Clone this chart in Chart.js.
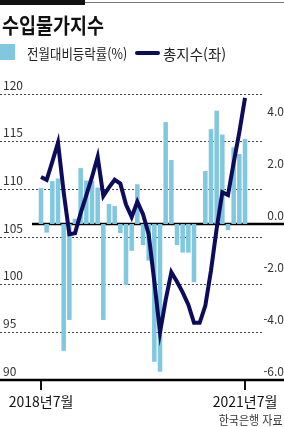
<!DOCTYPE html>
<html lang="ko">
<head>
<meta charset="utf-8">
<script src="https://cdn.jsdelivr.net/npm/chart.js@4"></script>
<style>
  body { margin: 0; background: #fff; font-family: "Noto Sans CJK KR", "Noto Sans", sans-serif; }
  #wrap { position: relative; width: 284px; height: 427px; overflow: hidden; }
  #chart { position: absolute; left: 0; top: 0; }
  .topbar { position: absolute; left: 0; top: 0; width: 85px; height: 5px; background: #111; }
  .topline { position: absolute; left: 85px; top: 2px; width: 199px; height: 1px; background: #777; }
  .title { position: absolute; left: 2px; top: 9px; font-size: 21px; font-weight: 700; color: #111;
           transform: scaleX(0.88); transform-origin: left top; white-space: nowrap; }
  .lg { position: absolute; top: 43px; font-size: 14px; color: #222; white-space: nowrap;
        transform-origin: left top; }
  .sq { position: absolute; left: 0; top: 44px; width: 15px; height: 16px; background: rgb(128,199,224); }
  .ln { position: absolute; left: 135px; top: 51px; width: 25px; height: 4px; border-radius: 2px; background: #0d0c5c; }
  .src { position: absolute; right: 1px; top: 410px; font-size: 12.5px; color: #333; white-space: nowrap;
         transform: scaleX(0.88); transform-origin: right top; }
</style>
</head>
<body>
<div id="wrap">
  <canvas id="chart" width="284" height="427"></canvas>
  <div class="topbar"></div>
  <div class="topline"></div>
  <div class="title">수입물가지수</div>
  <div class="sq"></div>
  <div class="lg" style="left:27px; transform: scaleX(0.89)">전월대비등락률(%)</div>
  <div class="ln"></div>
  <div class="lg" style="left:163px; font-size:14.5px">총지수(좌)</div>
  <div class="src">한국은행 자료</div>
</div>
<script>
// 2018년7월 ~ 2021년7월 (월별)
const months = [];
for (let i = 0; i < 37; i++) months.push(i);

const tickLabels = ["2018년7월", "2021년7월"];

// 전월대비등락률(%) - 오른쪽 축
const changeRate = [
  1.38, -0.33, 1.65, 1.75, -4.88, -3.69, 0.2, 2.15, 1.67, 1.67,
  1.4, -3.69, 0.77, 0.69, -0.35, -2.35, -1.03, 1.53, -0.81, -1.41,
  -5.3, -5.68, 3.92, 2.46, -0.81, -1.1, -1.1, -2.24, 0, 2.04,
  3.65, 4.36, 3.44, -0.23, 2.95, 2.69, 3.27
];

// 총지수 - 왼쪽 축
const totalIndex = [
  111.3, 111.0, 112.9, 114.9, 109.7, 105.3, 105.4, 107.5, 109.4, 111.3,
  113.4, 109.3, 110.2, 111.0, 110.6, 108.4, 107.1, 108.7, 107.4, 105.3,
  100.3, 95.0, 98.4, 101.3, 100.3, 99.2, 97.9, 96.0, 96.0, 97.8,
  101.5, 105.9, 109.7, 109.4, 112.8, 116.0, 119.6
];

const barColor = "rgb(128,199,224)";
const lineColor = "#0d0c5c";

Chart.defaults.font.family = '"Noto Sans CJK KR", "Noto Sans", sans-serif';

// 0선과 아래 축선은 캔버스 끝까지 그림
const axisLines = {
  id: "axisLines",
  beforeDatasetsDraw(chart) {
    const { ctx, scales } = chart;
    const y0 = scales.y1.getPixelForValue(0);
    const yb = scales.y.getPixelForValue(90);
    ctx.save();
    ctx.strokeStyle = "#000";
    ctx.lineWidth = 2.5;
    ctx.beginPath();
    ctx.moveTo(32, y0);
    ctx.lineTo(chart.width, y0);
    ctx.moveTo(0, yb);
    ctx.lineTo(chart.width, yb);
    ctx.stroke();
    ctx.restore();
  }
};

new Chart(document.getElementById("chart"), {
  data: {
    datasets: [
      {
        type: "line",
        label: "총지수(좌)",
        data: months.map((m, i) => ({ x: m, y: totalIndex[i] })),
        yAxisID: "y",
        borderColor: lineColor,
        borderWidth: 4,
        pointRadius: 0,
        tension: 0,
        order: 0
      },
      {
        type: "bar",
        label: "전월대비등락률(%)",
        data: months.map((m, i) => ({ x: m, y: changeRate[i] })),
        yAxisID: "y1",
        backgroundColor: barColor,
        barPercentage: 1,
        categoryPercentage: 0.8,
        order: 1
      }
    ]
  },
  options: {
    responsive: false,
    animation: false,
    layout: { padding: { top: 94, left: 0, right: 0, bottom: 0 } },
    plugins: { legend: { display: false }, tooltip: { enabled: false } },
    scales: {
      x: {
        type: "linear",
        offset: false,
        min: -7.235,
        max: 39.35,
        afterBuildTicks: (s) => { s.ticks = [{ value: 0 }, { value: 36 }]; },
        afterFit: (s) => { s.height = 47; },
        ticks: {
          callback: (v) => (v === 0 ? tickLabels[0] : tickLabels[1]),
          font: { size: 14 },
          color: "#111",
          padding: 3,
          maxRotation: 0,
          autoSkip: false
        },
        grid: { offset: false, drawOnChartArea: false, tickLength: 10, color: "#111", lineWidth: 2 },
        border: { display: false }
      },
      y: {
        position: "left",
        min: 90,
        max: 120,
        ticks: { stepSize: 5, mirror: true, padding: 3, labelOffset: -9, font: { size: 12 }, color: "#333" },
        afterFit: (s) => { s.width = 0; },
        grid: {
          drawTicks: false,
          color: (c) => (c.tick && c.tick.value === 90 ? "rgba(0,0,0,0)" : "#444"),
          lineWidth: 1
        },
        border: { display: false, dash: [2, 2] }
      },
      y1: {
        position: "right",
        min: -6,
        max: 5,
        afterBuildTicks: (s) => { s.ticks = s.ticks.filter((t) => t.value % 2 === 0); },
        afterFit: (s) => { s.width = 20; },
        ticks: {
          stepSize: 2,
          padding: 0,
          crossAlign: "far",
          labelOffset: -9,
          font: { size: 12 },
          color: "#333",
          callback: (v) => v.toFixed(1)
        },
        grid: { display: false },
        border: { display: false }
      }
    }
  },
  plugins: [axisLines]
});
</script>
</body>
</html>
